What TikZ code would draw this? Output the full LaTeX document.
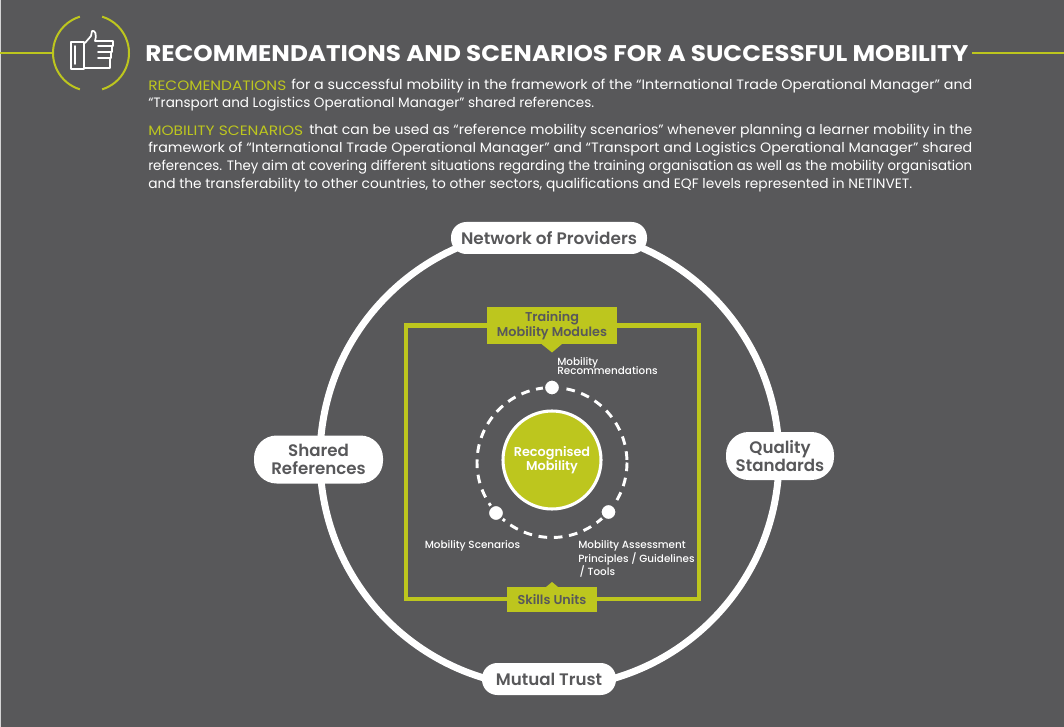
\documentclass[tikz,border=0pt]{standalone}
\usepackage{fontspec}
\usepackage{graphicx}
\setmainfont{Poppins}
\newfontfamily\semib{Poppins}[UprightFont=* SemiBold]
\newfontfamily\medm{Poppins}[UprightFont=* Medium]
\definecolor{bgc}{HTML}{58585A}
\definecolor{lime}{HTML}{BDC61E}
\newdimen\fitunit \fitunit=0.75pt
\newcommand{\fitline}[2]{\resizebox{#1\fitunit}{\height}{#2}}
\newcommand{\lm}[1]{\textcolor{lime}{#1}}
\tikzset{
 x=0.75pt,y=-0.75pt,
 bodyline/.style={anchor=west,inner sep=0pt,text=white,font=\fontsize{10.2pt}{12pt}\selectfont},
 pill/.style={draw=none,fill=white,inner sep=0pt,text=bgc,align=center,font=\fontsize{12.5pt}{13.5pt}\semib},
 limebox/.style={fill=lime,inner sep=0pt,text=bgc,align=center,font=\fontsize{9.6pt}{9.6pt}\semib},
 smalllabel/.style={anchor=north west,inner sep=0pt,text=white,align=left,font=\fontsize{7.8pt}{9pt}\medm},
 dotnode/.style={circle,fill=white,draw=bgc,line width=1.6pt,inner sep=0pt,minimum size=12pt},
 limeline/.style={draw=lime,line width=1.5pt},
 iconline/.style={draw=white,line width=1.3pt,line join=round,line cap=round}
}
\begin{document}
\begin{tikzpicture}
\useasboundingbox (0,0) rectangle (1064,727);
\fill[bgc] (0,0) rectangle (1064,727);
\fill[white!75!bgc] (0,0) rectangle (1,727);
% header
\coordinate (hc) at (91,53);
\coordinate (hl) at (0,53);
\coordinate (hl2) at (53,53);
\coordinate (hr) at (972,53);
\coordinate (hr2) at (1064,53);
\draw[limeline] (hl) -- (hl2);
\draw[limeline] (hr) -- (hr2);
\draw[limeline] (hc) ++(107:38) arc (107:253:38);
\draw[limeline] (hc) ++(73:38) arc (73:-73:38);
% icon
\draw[iconline] (71,42) rectangle (84,69);
\draw[iconline] (75,46) -- (75,64);
\draw[iconline] (85,43) -- (91,36) -- (92,31) .. controls (95,30) and (97,34) .. (95,41) -- (113,41) -- (113,46) -- (98,46);
\draw[iconline] (112,46) -- (112,52) -- (98,52);
\draw[iconline] (111,52) -- (111,58) -- (98,58);
\draw[iconline] (110,58) -- (110,68) -- (85,68);
% title
\node[anchor=west,inner sep=0pt,text=white,font=\fontsize{17pt}{20pt}\selectfont\bfseries] (title) at (145,54)
 {\fitline{823}{RECOMMENDATIONS AND SCENARIOS FOR A SUCCESSFUL MOBILITY}};
% body
\node[bodyline] (l1a) at (148,86) {\fitline{138}{\lm{RECOMENDATIONS}}};
\node[bodyline] (l1) at (291,86) {\fitline{681}{for a successful mobility in the framework of the “International Trade Operational Manager” and}};
\node[bodyline] (l2) at (148,104) {\fitline{446}{“Transport and Logistics Operational Manager” shared references.}};
\node[bodyline] (l3a) at (148,131) {\fitline{155}{\lm{MOBILITY SCENARIOS}}};
\node[bodyline] (l3) at (309,131) {\fitline{663}{that can be used as “reference mobility scenarios” whenever planning a learner mobility in the}};
\node[bodyline] (l4) at (148,149) {\fitline{824}{framework of “International Trade Operational Manager” and “Transport and Logistics Operational Manager” shared}};
\node[bodyline] (l5) at (148,167) {\fitline{824}{references.  They aim at covering different situations regarding the training organisation as well as the mobility organisation}};
\node[bodyline] (l6) at (148,185) {\fitline{764}{and the transferability to other countries, to other sectors, qualifications and EQF levels represented in NETINVET.}};
% big ring
\coordinate (rc) at (549.5,458);
\draw[white,line width=5.2pt] (rc) circle (229.5);
% square
\draw[draw=lime,line width=3.4pt] (406,325.5) rectangle (699,599);
% pointers
\fill[lime] (541.5,344) -- (552,352.5) -- (562,344) -- cycle;
\fill[lime] (546,587) -- (552,582) -- (558,587) -- cycle;
\node[limebox,minimum width=97.5pt,minimum height=27.75pt] (tm) at (552,325.5) {Training\\Mobility Modules};
\node[limebox,minimum width=67.5pt,minimum height=18.75pt] (su) at (552,599.5) {Skills Units};
% pills
\node[pill,rounded corners=11.5pt,minimum width=147pt,minimum height=24pt] (np) at (549,238) {\fitline{176}{Network of Providers}};
\node[pill,rounded corners=11.5pt,minimum width=100.5pt,minimum height=24pt] (mt) at (549,679) {Mutual Trust};
\node[pill,rounded corners=17pt,minimum width=96.75pt,minimum height=36pt] (sr) at (318.5,459.5) {Shared\\References};
\node[pill,rounded corners=17pt,minimum width=81pt,minimum height=36pt] (qs) at (780,456) {Quality\\Standards};
% inner
\coordinate (ic) at (552,462.5);
\draw[white,line width=2.2pt,dash pattern=on 6.5pt off 5pt] (ic) circle (75);
\node[circle,fill=lime,draw=white,line width=2.3pt,minimum size=73.5pt,inner sep=0pt,text=white,align=center,font=\fontsize{9.6pt}{11pt}\semib] (rm) at (552,460) {Recognised\\Mobility};
\node[dotnode] (d1) at (552,387.5) {};
\node[dotnode] (d2) at (496,513) {};
\node[dotnode] (d3) at (608.5,512) {};
% labels
\node[smalllabel] (a) at (557,357.5) {Mobility\\[-2.2pt]Recommendations};
\node[smalllabel] (b) at (424.5,540) {Mobility Scenarios};
\node[smalllabel] (c) at (578,540) {Mobility Assessment\\Principles / Guidelines\\[-0.3pt]\hspace*{1pt}/ Tools};
\end{tikzpicture}
\end{document}
